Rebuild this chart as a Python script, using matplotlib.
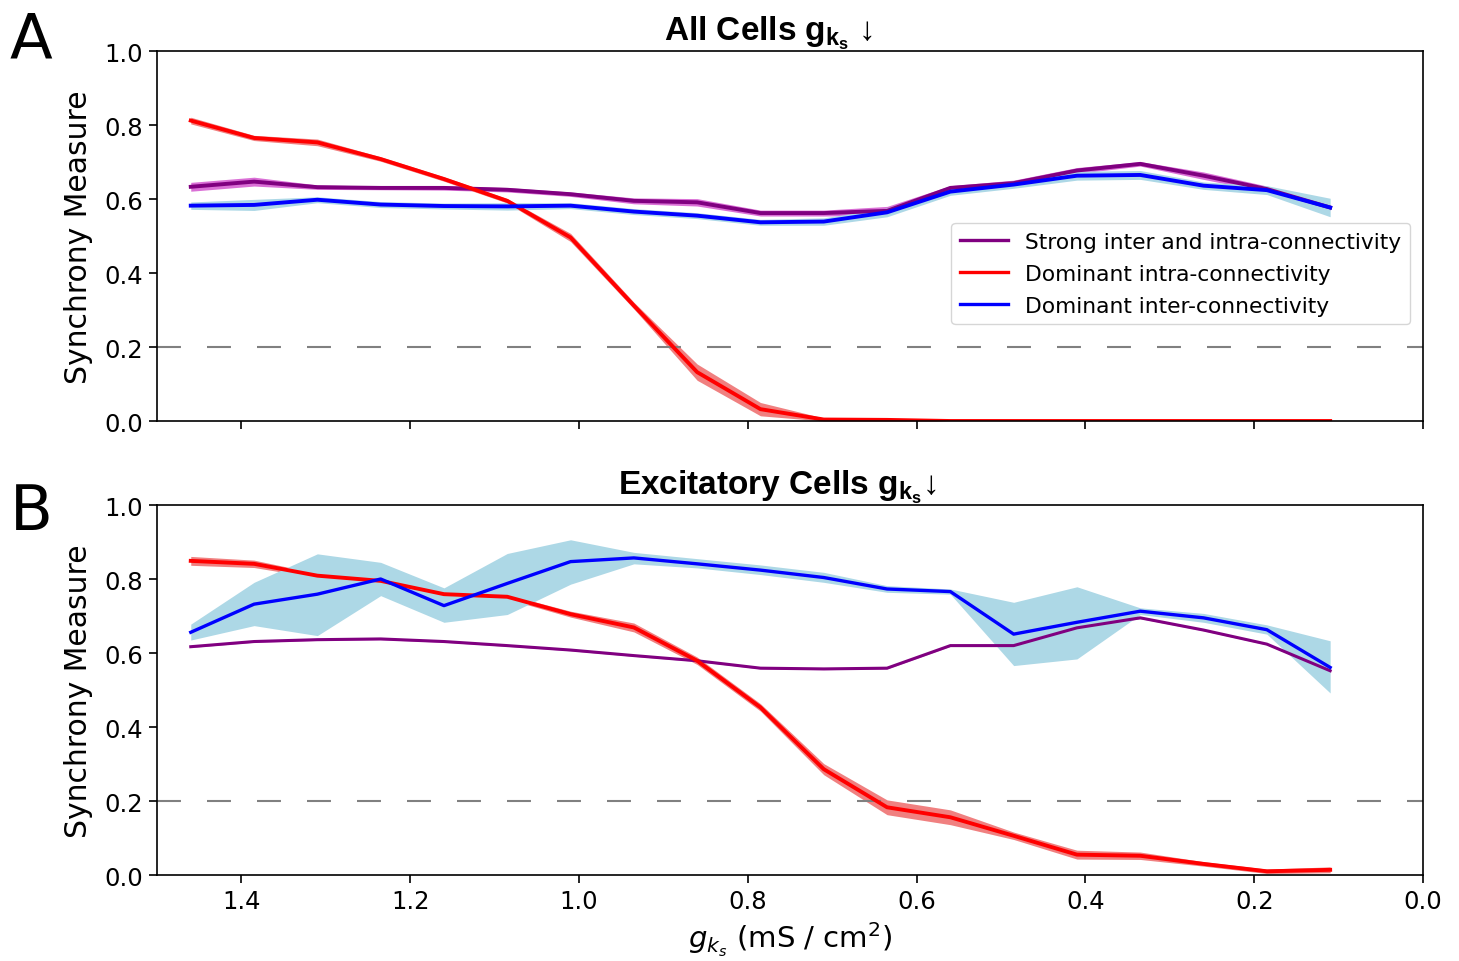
import numpy as np
import matplotlib
matplotlib.use("Agg")
import matplotlib.pyplot as plt

plt.rcParams['mathtext.fontset'] = 'custom'
plt.rcParams['mathtext.rm'] = 'Liberation Sans'
plt.rcParams['mathtext.bf'] = 'Liberation Sans:bold'
plt.rcParams['mathtext.it'] = 'Liberation Sans:italic'

# ---------------- data ----------------
gks = [1.46, 1.385, 1.31, 1.235, 1.16, 1.085, 1.01, 0.935, 0.86, 0.785,
       0.71, 0.635, 0.56, 0.485, 0.41, 0.335, 0.26, 0.185, 0.11]

# Panel A: all cells
a_strong = [0.633, 0.647, 0.632, 0.630, 0.630, 0.625, 0.613, 0.595, 0.591, 0.562,
            0.562, 0.568, 0.630, 0.643, 0.677, 0.695, 0.663, 0.627, 0.577]
a_strong_err = [0.012, 0.012, 0.006, 0.005, 0.006, 0.006, 0.006, 0.008, 0.010, 0.008,
                0.008, 0.012, 0.006, 0.008, 0.008, 0.006, 0.010, 0.008, 0.008]
a_intra = [0.812, 0.765, 0.753, 0.708, 0.654, 0.595, 0.496, 0.312, 0.132, 0.032,
           0.004, 0.003, 0.0, 0.0, 0.0, 0.0, 0.0, 0.0, 0.0]
a_intra_err = [0.009, 0.007, 0.009, 0.006, 0.006, 0.006, 0.011, 0.009, 0.022, 0.018,
               0.004, 0.003, 0.0, 0.0, 0.0, 0.0, 0.0, 0.0, 0.0]
a_inter = [0.582, 0.584, 0.598, 0.585, 0.581, 0.580, 0.582, 0.566, 0.555, 0.537,
           0.539, 0.564, 0.620, 0.639, 0.663, 0.665, 0.636, 0.624, 0.577]
a_inter_err = [0.010, 0.015, 0.008, 0.008, 0.008, 0.010, 0.008, 0.008, 0.008, 0.008,
               0.010, 0.012, 0.010, 0.010, 0.012, 0.012, 0.010, 0.012, 0.025]

# Panel B: excitatory cells
b_strong = [0.617, 0.631, 0.636, 0.638, 0.631, 0.620, 0.608, 0.593, 0.579, 0.559,
            0.557, 0.559, 0.620, 0.620, 0.668, 0.695, 0.662, 0.624, 0.552]
b_strong_err = [0.002] * 19
b_intra = [0.849, 0.841, 0.809, 0.795, 0.759, 0.752, 0.705, 0.669, 0.579, 0.453,
           0.286, 0.183, 0.156, 0.106, 0.055, 0.052, 0.030, 0.010, 0.014]
b_intra_err = [0.012, 0.010, 0.006, 0.006, 0.006, 0.006, 0.008, 0.012, 0.010, 0.010,
               0.015, 0.020, 0.020, 0.010, 0.012, 0.010, 0.006, 0.006, 0.008]
b_inter = [0.656, 0.732, 0.759, 0.800, 0.728, 0.788, 0.847, 0.857, 0.841, 0.824,
           0.804, 0.773, 0.766, 0.651, 0.683, 0.713, 0.695, 0.663, 0.561]
b_inter_lo = [0.635, 0.674, 0.647, 0.755, 0.683, 0.704, 0.786, 0.841, 0.830, 0.812,
              0.791, 0.764, 0.759, 0.566, 0.584, 0.704, 0.683, 0.651, 0.492]
b_inter_hi = [0.678, 0.791, 0.868, 0.845, 0.776, 0.869, 0.906, 0.872, 0.855, 0.838,
              0.818, 0.782, 0.773, 0.737, 0.779, 0.722, 0.707, 0.676, 0.633]

labels = ["Strong inter and intra-connectivity",
          "Dominant intra-connectivity",
          "Dominant inter-connectivity"]
xticks = [1.4, 1.2, 1.0, 0.8, 0.6, 0.4, 0.2, 0.0]
yticks = [0.0, 0.2, 0.4, 0.6, 0.8, 1.0]
threshold = 0.2

line_colors = ['purple', 'red', 'blue']
band_colors = ['orchid', 'lightcoral', 'lightblue']

# ---------------- figure ----------------
fig = plt.figure(figsize=(14.59, 9.62), dpi=100)
W, H = 1459, 962
axA = fig.add_axes([157 / W, 1 - 422 / H, 1266 / W, 370 / H])
axB = fig.add_axes([157 / W, 1 - 876 / H, 1266 / W, 370 / H])

x = np.array(gks)

def panel(ax, series, bands, lws):
    for (lo, hi), bc in zip(bands, band_colors):
        ax.fill_between(x, lo, hi, color=bc, lw=0, zorder=1)
    handles = []
    for y, lc, lab, lw in zip(series, line_colors, labels, lws):
        h, = ax.plot(x, y, color=lc, lw=lw, label=lab, zorder=2)
        handles.append(h)
    ax.axhline(threshold, color='gray', lw=1.5, ls=(0, (11.5, 12.5)), zorder=1.5)
    ax.set_xlim(1.5, 0.0)
    ax.set_ylim(0.0, 1.0)
    ax.set_xticks(xticks)
    ax.set_yticks(yticks)
    ax.set_yticklabels([f"{v:.1f}" for v in yticks])
    ax.tick_params(labelsize=17.5, length=6, width=1.2, pad=4)
    ax.set_ylabel("Synchrony Measure", fontsize=21.5, labelpad=8)
    for s in ax.spines.values():
        s.set_linewidth(1.2)
    return handles

def band(y, e):
    y = np.array(y); e = np.array(e)
    return (y - e, y + e)

hA = panel(axA, [a_strong, a_intra, a_inter],
           [band(a_strong, a_strong_err), band(a_intra, a_intra_err), band(a_inter, a_inter_err)],
           [2.8, 2.8, 2.8])
hB = panel(axB, [b_strong, b_intra, b_inter],
           [band(b_strong, b_strong_err), band(b_intra, b_intra_err), (b_inter_lo, b_inter_hi)],
           [2.2, 2.8, 2.4])

axA.set_xticklabels([])
axB.set_xticklabels([f"{v:.1f}" for v in xticks])
axB.set_xlabel(r"$g_{k_s}$ (mS / cm$^2$)", fontsize=21, math_fontfamily='dejavusans', labelpad=5)

leg = axA.legend(handles=hA, loc='upper right', bbox_to_anchor=(0.99, 0.535), fontsize=15.7,
                 handlelength=2.2, borderaxespad=0.0, labelspacing=0.55)
for l in leg.get_lines():
    l.set_linewidth(2.4)

axA.set_title("All Cells $\\mathbf{g_{k_s}}$ \u2193", fontsize=24, fontweight='bold',
              family='Liberation Sans', x=0.483, pad=3)
axB.set_title("Excitatory Cells $\\mathbf{g_{k_s}}$\u2193", fontsize=24, fontweight='bold',
              family='Liberation Sans', x=0.49, pad=3)

fig.text(10 / W, 1 - 59 / H, "A", fontsize=45, va='baseline', ha='left')
fig.text(10 / W, 1 - 530 / H, "B", fontsize=45, va='baseline', ha='left')

fig.savefig("out.png", dpi=100)
